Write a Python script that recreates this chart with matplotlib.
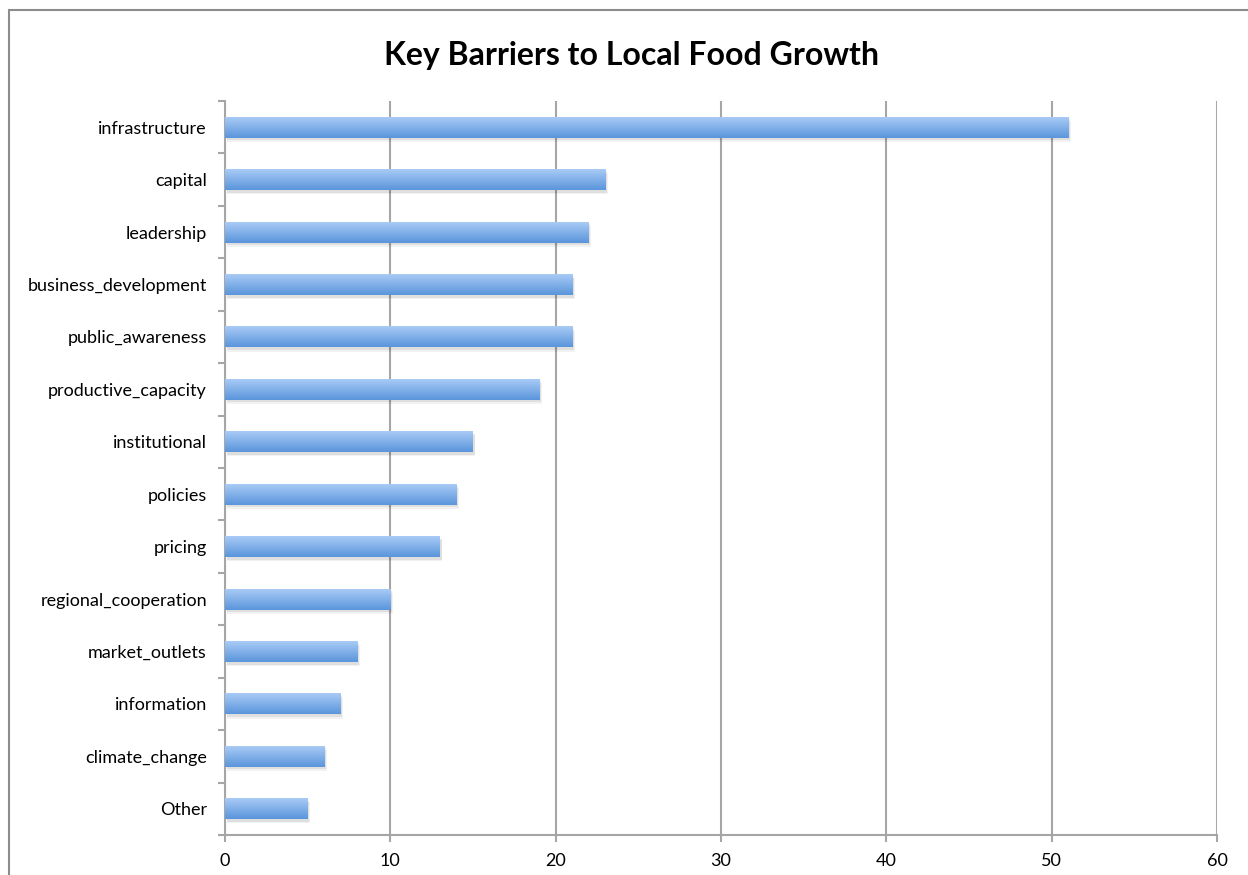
import matplotlib.pyplot as plt
import matplotlib.patches as mpatches
from matplotlib.colors import LinearSegmentedColormap
import numpy as np

# Barriers and number of mentions
barriers = [
    "infrastructure", "capital", "leadership", "business_development",
    "public_awareness", "productive_capacity", "institutional", "policies",
    "pricing", "regional_cooperation", "market_outlets", "information",
    "climate_change", "Other",
]
counts = [51, 23, 22, 21, 21, 19, 15, 14, 13, 10, 8, 7, 6, 5]

plt.rcParams["font.family"] = ["Lato", "DejaVu Sans"]

fig = plt.figure(figsize=(12.48, 8.75), dpi=100)
ax = fig.add_axes([225 / 1248, 1 - 835 / 875, (1217 - 225) / 1248, (835 - 101) / 875])

# outer chart frame
fig.patches.append(mpatches.Rectangle(
    (9 / 1248, -0.1), 2, 1.1 - 10 / 875, transform=fig.transFigure,
    fill=False, edgecolor="#8c8c8c", linewidth=1.5, zorder=0))

y = np.arange(len(barriers))
grid_color = "#a6a6a6"

# soft drop shadow under each bar
ax.barh(y + 0.05, counts, height=0.4, left=0.1, color="#000000", alpha=0.08, zorder=2)
ax.barh(y + 0.08, counts, height=0.4, left=0.15, color="#000000", alpha=0.05, zorder=2)
bars = ax.barh(y, counts, height=0.4, color="none", zorder=3)

# vertical gradient fill, light on top, darker below
grad = np.linspace(0, 1, 64).reshape(-1, 1)
cmap = LinearSegmentedColormap.from_list("barfill", ["#a9cbf6", "#5a95db"])
for bar in bars:
    x0, y0 = bar.get_x(), bar.get_y()
    w, h = bar.get_width(), bar.get_height()
    im = ax.imshow(grad, cmap=cmap, aspect="auto", origin="upper",
                   extent=(x0, x0 + w, y0 + h, y0), zorder=4, interpolation="bilinear")
    im.set_clip_path(bar)

ax.set_xlim(0, 60)
ax.set_ylim(len(barriers) - 0.5, -0.5)
ax.set_xticks(range(0, 61, 10))
ax.set_yticks(y)
ax.set_yticklabels(barriers, fontsize=13)
ax.set_yticks(np.arange(-0.5, len(barriers)), minor=True)

ax.grid(axis="x", color=grid_color, linewidth=1.5, zorder=1)
ax.set_axisbelow(True)

for side in ["top", "right"]:
    ax.spines[side].set_visible(False)
for side in ["left", "bottom"]:
    ax.spines[side].set_color(grid_color)
    ax.spines[side].set_linewidth(1.5)

ax.tick_params(axis="y", which="major", length=0, pad=13)
ax.tick_params(axis="y", which="minor", length=5, width=1.5, color=grid_color, direction="out")
ax.tick_params(axis="x", length=5, width=1.5, color=grid_color, pad=8, labelsize=13)

fig.text(631 / 1248, 1 - 55 / 875, "Key Barriers to Local Food Growth",
         ha="center", va="center", fontsize=23, fontweight="bold")

plt.savefig("out.png", dpi=100)
